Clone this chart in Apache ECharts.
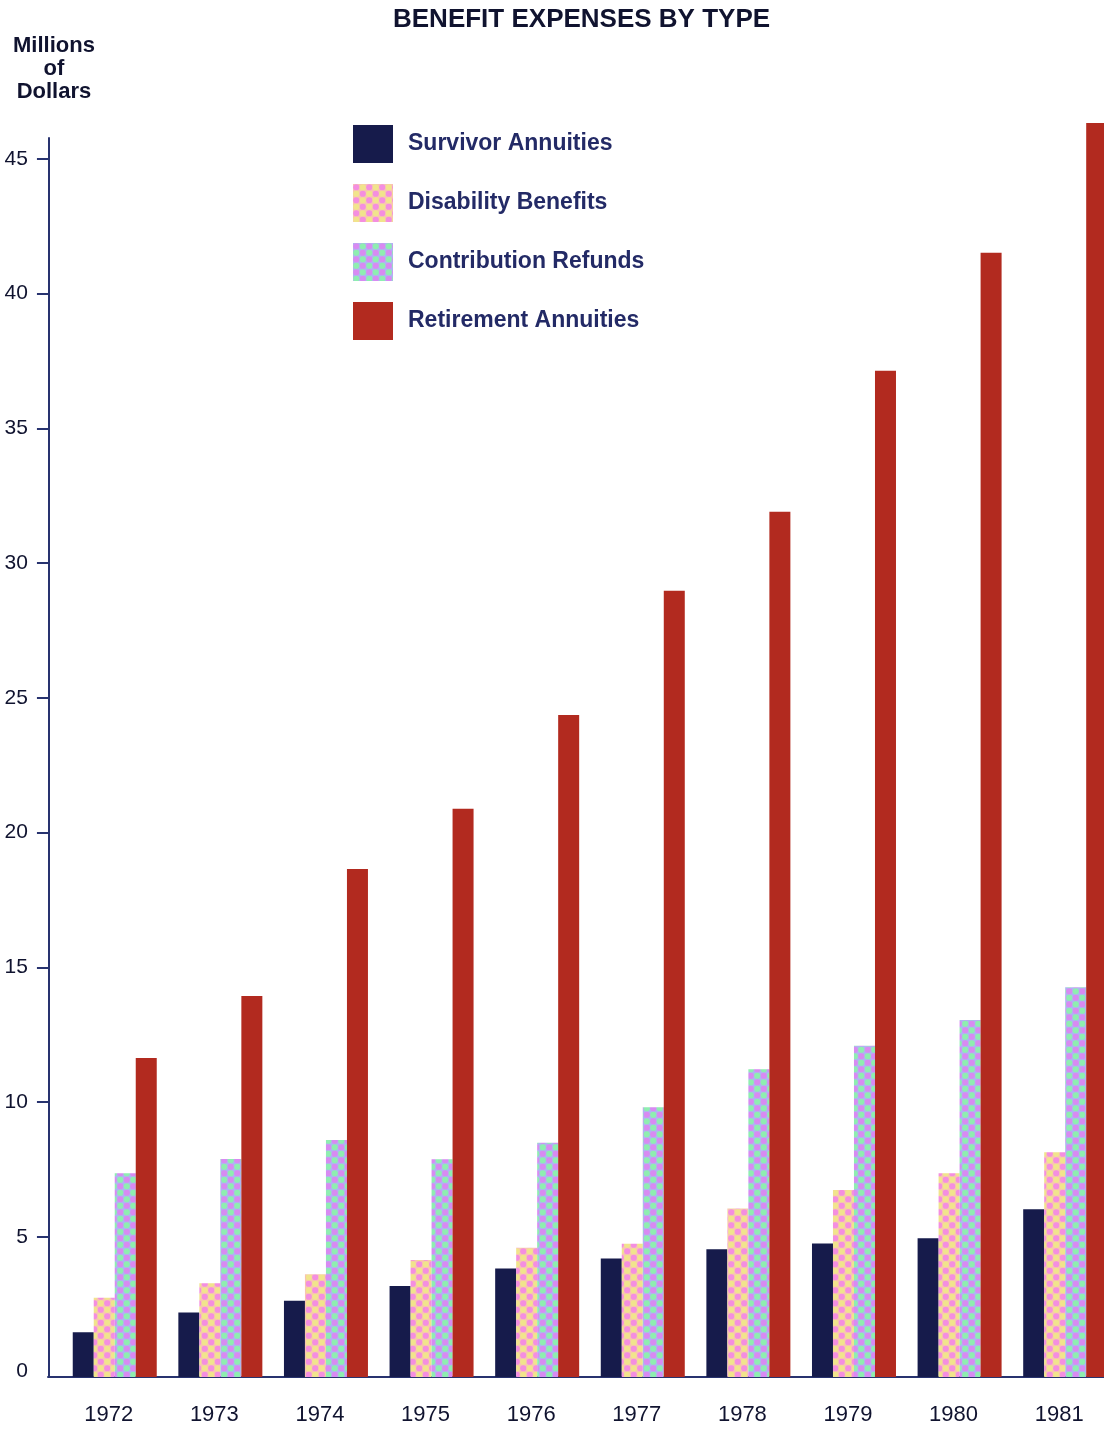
<!DOCTYPE html>
<html>
<head>
<meta charset="utf-8">
<script src="https://cdn.jsdelivr.net/npm/echarts@6/dist/echarts.min.js"></script>
<style>
  html, body { margin: 0; padding: 0; background: #fff; overflow: hidden; }
  /* slightly wider than the window: the last group of bars is cut by the page edge */
  #chart { width: 1118px; height: 1429px; }
</style>
</head>
<body>
<div id="chart"></div>
<script>
// data (millions of dollars)
var years = ['1972', '1973', '1974', '1975', '1976', '1977', '1978', '1979', '1980', '1981'];
var survivor = [1.66, 2.39, 2.83, 3.38, 4.03, 4.40, 4.74, 4.95, 5.15, 6.22];
var disability = [2.94, 3.48, 3.81, 4.34, 4.80, 4.94, 6.25, 6.94, 7.56, 8.34];
var refunds = [7.56, 8.09, 8.79, 8.08, 8.69, 10.01, 11.42, 12.29, 13.25, 14.46];
var retirement = [11.84, 14.14, 18.85, 21.08, 24.56, 29.17, 32.10, 37.33, 41.71, 46.53];
var yLabels = [0, 5, 10, 15, 20, 25, 30, 35, 40, 45];
var yTicks = [5, 10, 15, 20, 25, 30, 35, 40, 45]; // no tick drawn at 0

var navy = '#28336f';
var ink = '#10132f';

// dotted fills like the printed screen patterns
function makePattern(bg, c1, c2) {
  var cv = document.createElement('canvas');
  cv.width = 13;
  cv.height = 13;
  var ctx = cv.getContext('2d');
  ctx.fillStyle = bg;
  ctx.fillRect(0, 0, 13, 13);
  var dots = [[3.25, 3.25, c1], [9.75, 9.75, c1], [9.75, 3.25, c2], [3.25, 9.75, c2]];
  dots.forEach(function (d) {
    ctx.fillStyle = d[2];
    ctx.beginPath();
    ctx.arc(d[0], d[1], 3.1, 0, Math.PI * 2);
    ctx.fill();
  });
  return { image: cv, repeat: 'repeat' };
}

var disabilityFill = makePattern('#f8c6b0', '#f48ee0', '#f1e48c');
var refundsFill = makePattern('#b0b4f2', '#d88af2', '#8eeeb0');

var chart = echarts.init(document.getElementById('chart'));

function bar(name, data, color) {
  return {
    name: name,
    type: 'bar',
    yAxisIndex: 1,
    data: data,
    barWidth: 21,
    barGap: '0%',
    clip: false,
    itemStyle: { color: color },
    emphasis: { disabled: true }
  };
}

chart.setOption({
  backgroundColor: '#fff',
  animation: false,
  textStyle: { fontFamily: 'Liberation Sans, Arial, sans-serif' },
  title: {
    text: 'BENEFIT EXPENSES BY TYPE',
    left: 393,
    top: 7,
    padding: 0,
    textStyle: { fontSize: 26, fontWeight: 'bold', color: ink }
  },
  legend: {
    orient: 'vertical',
    left: 353,
    top: 125,
    padding: 0,
    itemWidth: 40,
    itemHeight: 38,
    itemGap: 21,
    icon: 'rect',
    selectedMode: false,
    textStyle: { fontSize: 23, fontWeight: 'bold', color: '#232a66', padding: [0, 0, 0, 10] },
    data: ['Survivor Annuities', 'Disability Benefits', 'Contribution Refunds', 'Retirement Annuities']
  },
  grid: [
    { left: 61, right: 0, top: 138, bottom: 52 },
    { left: 48, right: 0, top: 1376, bottom: 52 }
  ],
  xAxis: [
    {
      type: 'category',
      gridIndex: 0,
      data: years,
      axisLine: { show: false },
      axisTick: { show: false },
      axisLabel: { fontSize: 22, color: ink, margin: 27, padding: [0, 12, 0, 0] }
    },
    {
      type: 'value',
      gridIndex: 1,
      axisLine: { show: true, lineStyle: { color: navy, width: 2 } },
      axisTick: { show: false },
      axisLabel: { show: false },
      splitLine: { show: false }
    }
  ],
  yAxis: [
    {
      type: 'value',
      gridIndex: 0,
      min: -0.2,
      max: 45.77,
      offset: 13,
      name: 'Millions\nof\nDollars',
      nameLocation: 'end',
      nameGap: 35,
      nameTextStyle: { fontSize: 22, fontWeight: 'bold', color: ink, align: 'center', lineHeight: 23, padding: [0, 0, 0, 10] },
      axisLine: { show: true, lineStyle: { color: navy, width: 2 } },
      axisTick: { show: true, length: 12, lineStyle: { color: navy, width: 2 }, customValues: yTicks },
      axisLabel: { fontSize: 21, color: ink, margin: 21, customValues: yLabels },
      splitLine: { show: false }
    },
    {
      type: 'value',
      gridIndex: 0,
      min: 0,
      max: 45.97,
      show: false
    },
    {
      type: 'value',
      gridIndex: 1,
      show: false
    }
  ],
  series: [
    bar('Survivor Annuities', survivor, '#161b4b'),
    bar('Disability Benefits', disability, disabilityFill),
    bar('Contribution Refunds', refunds, refundsFill),
    bar('Retirement Annuities', retirement, '#b22a1f')
  ]
});
</script>
</body>
</html>
